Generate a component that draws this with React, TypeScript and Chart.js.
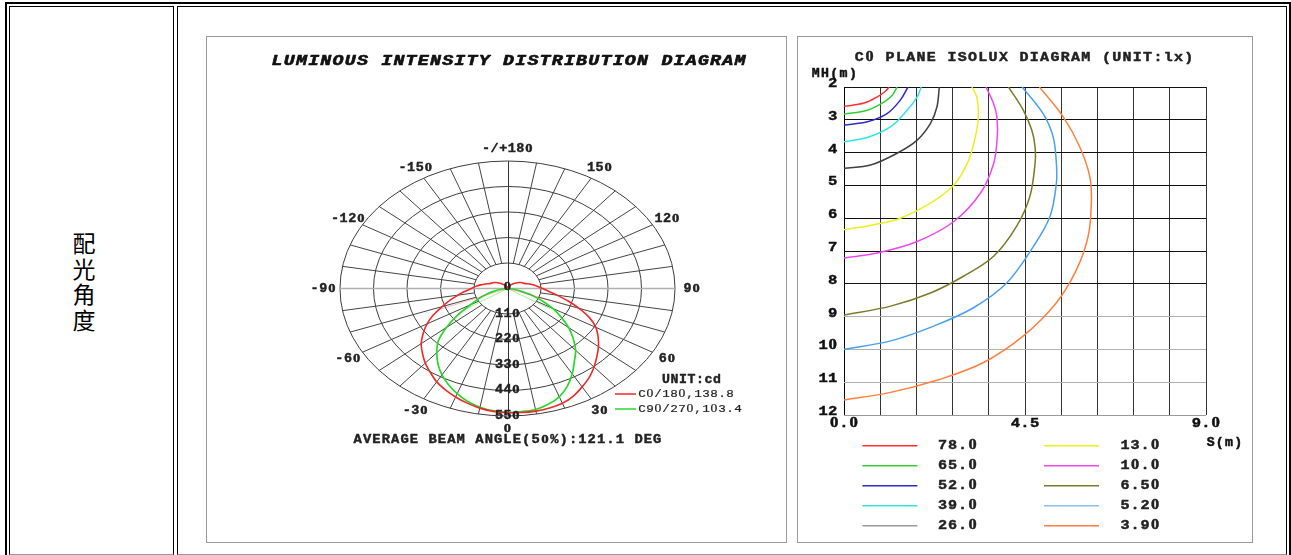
import React, { useEffect, useRef } from 'react';
import { Chart, registerables } from 'chart.js';

Chart.register(...registerables);

// ---------------- Luminous intensity (polar) data ----------------
const C0_ANGLES = [-180, -175, -170, -165, -160, -155, -150, -145, -140, -135, -130, -125, -120, -115, -110, -105, -100, -95, -90, -85, -80, -75, -70, -65, -60, -55, -50, -45, -40, -35, -30, -25, -20, -15, -10, -5, 0, 5, 10, 15, 20, 25, 30, 35, 40, 45, 50, 55, 60, 65, 70, 75, 80, 85, 90, 95, 100, 105, 110, 115, 120, 125, 130, 135, 140, 145, 150, 155, 160, 165, 170, 175, 180];
const C0_180_CD = [3, 4, 5, 7, 9, 12, 15, 19, 24, 30, 37, 45, 52, 56, 62, 75, 90, 105, 118, 140, 165, 195, 228, 268, 305, 338, 370, 395, 420, 442, 465, 482, 498, 512, 524, 532, 535, 537, 537, 534, 527, 512, 490, 468, 442, 415, 390, 363, 335, 297, 250, 205, 165, 135, 115, 100, 88, 75, 62, 56, 52, 45, 37, 30, 24, 19, 15, 12, 9, 7, 5, 4, 3];
const C90_ANGLES = [-90, -85, -80, -75, -70, -65, -60, -55, -50, -45, -40, -35, -30, -25, -20, -15, -10, -5, 0, 5, 10, 15, 20, 25, 30, 35, 40, 45, 50, 55, 60, 65, 70, 75, 80, 85, 90];
const C90_270_CD = [3, 12, 25, 48, 75, 105, 140, 200, 262, 322, 361, 398, 430, 458, 483, 505, 520, 530, 535, 533, 530, 517, 497, 465, 425, 383, 348, 305, 262, 215, 170, 125, 85, 48, 25, 12, 3];
const C0_GHOST_ANGLES = [-68, 70];
const C0_GHOST_CD = [250, 250];
const C90_GHOST_ANGLES = [-57, 58];
const C90_GHOST_CD = [175, 165];

const POLAR_RINGS = [110, 220, 330, 440, 550];
const POLAR_ANGLE_LABELS = [180, 150, 120, 90, 60, 30, 0, -30, -60, -90, -120, -150];
const POLAR_SPOKE_STEP = 10;
const POLAR_SERIES = ['C0/180,138.8', 'C90/270,103.4'];
const POLAR_TITLE = 'LUMINOUS INTENSITY DISTRIBUTION DIAGRAM';
const POLAR_FOOT = 'AVERAGE BEAM ANGLE(50%):121.1 DEG';
const POLAR_UNIT = 'UNIT:cd';

// ---------------- Isolux data (S m, MH m) ----------------
const ISO_78 = [[0, 2.59], [0.5, 2.49], [0.83, 2.3], [1.03, 2.13], [1.12, 2.0]];
const ISO_65 = [[0, 2.83], [0.58, 2.71], [0.99, 2.46], [1.2, 2.25], [1.32, 2.0]];
const ISO_52 = [[0, 3.16], [0.58, 3.06], [1.07, 2.81], [1.4, 2.4], [1.59, 2.0]];
const ISO_39 = [[0, 3.67], [0.58, 3.54], [1.16, 3.21], [1.57, 2.71], [1.82, 2.3], [1.92, 2.0]];
const ISO_26 = [[0, 4.48], [0.66, 4.38], [1.32, 4.02], [1.82, 3.62], [2.15, 3.11], [2.31, 2.61], [2.37, 2.0]];
const ISO_13 = [[0, 6.35], [0.74, 6.2], [1.4, 6.0], [2.15, 5.54], [2.73, 4.99], [3.1, 4.23], [3.3, 3.32], [3.34, 2.81], [3.3, 2.3], [3.18, 2.0]];
const ISO_10 = [[0, 7.21], [0.83, 7.06], [1.82, 6.71], [2.73, 6.1], [3.39, 5.24], [3.72, 4.33], [3.81, 3.52], [3.8, 2.91], [3.72, 2.51], [3.53, 2.0]];
const ISO_6_5 = [[0, 8.95], [1.16, 8.68], [2.15, 8.28], [2.97, 7.77], [3.72, 7.16], [4.29, 6.25], [4.62, 5.34], [4.75, 4.33], [4.75, 3.82], [4.67, 3.32], [4.46, 2.71], [4.09, 2.0]];
const ISO_5_2 = [[0, 10.0], [1.16, 9.74], [2.23, 9.29], [3.22, 8.73], [4.05, 7.97], [4.71, 6.86], [5.12, 5.95], [5.28, 4.94], [5.28, 4.33], [5.2, 3.52], [4.95, 2.81], [4.43, 2.0]];
const ISO_3_9 = [[0, 11.54], [1.16, 11.31], [2.39, 10.91], [3.47, 10.4], [4.46, 9.59], [5.28, 8.58], [5.78, 7.57], [6.07, 6.55], [6.15, 5.54], [6.11, 4.73], [5.86, 3.82], [5.45, 2.91], [4.86, 2.0]];
const ISO_CURVES = [ISO_78, ISO_65, ISO_52, ISO_39, ISO_26, ISO_13, ISO_10, ISO_6_5, ISO_5_2, ISO_3_9];
const ISO_LABELS = ['78.0', '65.0', '52.0', '39.0', '26.0', '13.0', '10.0', '6.50', '5.20', '3.90'];
const ISO_COLORS = ['#ff3030', '#30d030', '#2c2cc8', '#30e4e4', '#404040', '#eeee20', '#f048f0', '#7a7a28', '#4aa0f0', '#ff8040'];
const ISO_LEGEND_COLORS = ['#ff3030', '#30d030', '#2c2cc8', '#30e4e4', '#9a9a9a', '#eeee20', '#f048f0', '#7a7a28', '#86c0f6', '#ff8040'];
const ISO_X_GRID = [0, 0.9, 1.8, 2.7, 3.6, 4.5, 5.4, 6.3, 7.2, 8.1, 9.0];
const ISO_X_LABEL_VALUES = [0, 4.5, 9];
const ISO_X_LABELS = ['0.0', '4.5', '9.0'];
const ISO_Y_TICKS = [2, 3, 4, 5, 6, 7, 8, 9, 10, 11, 12];
const ISO_TITLE = 'C0 PLANE ISOLUX DIAGRAM (UNIT:lx)';

const MONO = '"Liberation Mono", "DejaVu Sans Mono", monospace';
const ZERO_FONT = '"Liberation Serif", serif';

type TextOpts = { size: number; pitch: number; bold?: boolean; italic?: boolean; sx?: number; align?: 'left' | 'center' | 'right'; color?: string; stroke?: number };

function drawMono(ctx: CanvasRenderingContext2D, text: string, x: number, y: number, o: TextOpts) {
  const n = text.length;
  const total = n * o.pitch;
  const start = o.align === 'left' ? x : o.align === 'right' ? x - total : x - total / 2;
  const style = `${o.italic ? 'italic ' : ''}${o.bold ? 'bold ' : ''}`;
  ctx.save();
  ctx.fillStyle = o.color || '#111';
  ctx.strokeStyle = o.color || '#111';
  ctx.lineWidth = o.stroke || 0;
  ctx.lineJoin = 'round';
  ctx.textAlign = 'center';
  ctx.textBaseline = 'alphabetic';
  const base = y + o.size * 0.3;
  for (let i = 0; i < n; i++) {
    const ch = text[i];
    if (ch === ' ') continue;
    // plain (undotted) zero like the original Courier-style lettering
    ctx.font = ch === '0' ? `${style}${o.size * 1.08}px ${ZERO_FONT}` : `${style}${o.size}px ${MONO}`;
    ctx.save();
    ctx.translate(start + o.pitch * (i + 0.5), base);
    ctx.scale(o.sx || 1, 1);
    ctx.fillText(ch, 0, 0);
    if (o.stroke) ctx.strokeText(ch, 0, 0);
    ctx.restore();
  }
  ctx.restore();
}

const rad = (a: number) => (a * Math.PI) / 180;
const toXY = (angles: number[], cd: number[]) =>
  angles.map((a, i) => ({ x: cd[i] * Math.sin(rad(a)), y: -cd[i] * Math.cos(rad(a)) }));
const ghost = (angles: number[], cd: number[]) =>
  angles.map((a, i) => [{ x: 0, y: 0 }, { x: cd[i] * Math.sin(rad(a)), y: -cd[i] * Math.cos(rad(a)) }]);

const POLAR_MAX = POLAR_RINGS[POLAR_RINGS.length - 1];

const polarPlugin = {
  id: 'polarGrid',
  beforeDatasetsDraw(chart: any) {
    const { ctx } = chart;
    const xs = chart.scales.x;
    const ys = chart.scales.y;
    const px = (a: number, r: number) => [xs.getPixelForValue(r * Math.sin(rad(a))), ys.getPixelForValue(-r * Math.cos(rad(a)))];
    const cx = xs.getPixelForValue(0);
    const cy = ys.getPixelForValue(0);
    ctx.save();
    ctx.strokeStyle = '#3c3c3c';
    ctx.lineWidth = 1;
    for (const r of POLAR_RINGS) {
      const rx = xs.getPixelForValue(r) - cx;
      const ry = cy - ys.getPixelForValue(r);
      ctx.beginPath();
      ctx.ellipse(cx, cy, rx, ry, 0, 0, Math.PI * 2);
      ctx.stroke();
    }
    ctx.strokeStyle = '#444';
    for (let a = -170; a <= 180; a += POLAR_SPOKE_STEP) {
      if (a % 90 === 0) continue;
      const [x1, y1] = px(a, POLAR_RINGS[0]);
      const [x2, y2] = px(a, POLAR_MAX);
      ctx.beginPath();
      ctx.moveTo(x1, y1);
      ctx.lineTo(x2, y2);
      ctx.stroke();
    }
    let [x1, y1] = px(180, POLAR_MAX);
    let [x2, y2] = px(0, POLAR_MAX);
    ctx.strokeStyle = '#333';
    ctx.beginPath();
    ctx.moveTo(Math.round(x1) + 0.5, y1);
    ctx.lineTo(Math.round(x2) + 0.5, y2);
    ctx.stroke();
    [x1, y1] = px(-90, POLAR_MAX);
    [x2, y2] = px(90, POLAR_MAX);
    ctx.strokeStyle = '#b0b0b0';
    ctx.lineWidth = 1.3;
    ctx.beginPath();
    ctx.moveTo(x1, y1);
    ctx.lineTo(x2, y2);
    ctx.stroke();
    ctx.restore();
  },
  afterDraw(chart: any) {
    const { ctx } = chart;
    const xs = chart.scales.x;
    const ys = chart.scales.y;
    const px = (a: number, r: number) => [xs.getPixelForValue(r * Math.sin(rad(a))), ys.getPixelForValue(-r * Math.cos(rad(a)))];
    const cx = xs.getPixelForValue(0);
    const cy = ys.getPixelForValue(0);
    drawMono(ctx, POLAR_TITLE, cx + 1, 24, { size: 14, pitch: 12.18, bold: true, italic: true, sx: 1.3, stroke: 0.6, color: '#111' });
    const lab = { size: 12, pitch: 8.6, bold: true, sx: 1.12, color: '#222', stroke: 0.4 };
    for (const a of POLAR_ANGLE_LABELS) {
      const [lx, ly] = px(a, POLAR_MAX * 1.1);
      drawMono(ctx, a === 180 ? '-/+180' : String(a), lx, ly, lab);
    }
    for (const r of POLAR_RINGS) {
      drawMono(ctx, String(r), cx, ys.getPixelForValue(-r) - 1, { ...lab, pitch: 8.4 });
    }
    drawMono(ctx, '0', cx, cy - 2, lab);
    drawMono(ctx, POLAR_FOOT, cx, 402, { size: 12, pitch: 9.36, bold: true, sx: 1.15, color: '#222', stroke: 0.4 });
    drawMono(ctx, POLAR_UNIT, 454.7, 342.5, { size: 12, pitch: 8.5, bold: true, sx: 1.1, align: 'left', color: '#222', stroke: 0.4 });
    const rows = [357, 372];
    const cols = ['#ee2a2a', '#2ad82a'];
    POLAR_SERIES.forEach((s, i) => {
      ctx.save();
      ctx.strokeStyle = cols[i];
      ctx.lineWidth = 1.5;
      ctx.beginPath();
      ctx.moveTo(408, rows[i]);
      ctx.lineTo(429, rows[i]);
      ctx.stroke();
      ctx.restore();
      drawMono(ctx, s, 431, rows[i], { size: 11.5, pitch: 8, sx: 1.1, align: 'left', color: '#222', stroke: 0.2 });
    });
  },
};

const isoPlugin = {
  id: 'isoText',
  afterDraw(chart: any) {
    const { ctx, chartArea: ca } = chart;
    const xs = chart.scales.x;
    const ys = chart.scales.y;
    const b = { bold: true, color: '#111', stroke: 0.45 };
    drawMono(ctx, ISO_TITLE, 226, 20.5, { ...b, size: 13, pitch: 10.3, sx: 1.15, color: '#222' });
    drawMono(ctx, 'MH(m)', 13, 36.5, { ...b, size: 12, pitch: 9.3, sx: 1.1, align: 'left' });
    drawMono(ctx, 'S(m)', ca.right, 405.5, { ...b, size: 12, pitch: 9.2, sx: 1.1, align: 'left' });
    for (const v of ISO_Y_TICKS) {
      drawMono(ctx, String(v), ca.left - 6.5, ys.getPixelForValue(v) - 4, { ...b, size: 13.5, pitch: 9.5, sx: 1.15, align: 'right' });
    }
    ISO_X_LABEL_VALUES.forEach((v, i) => {
      drawMono(ctx, ISO_X_LABELS[i], xs.getPixelForValue(v), ca.bottom + 8, { ...b, size: 13.5, pitch: 9.7, sx: 1.15 });
    });
    ISO_LABELS.forEach((l, i) => {
      const col = i < 5 ? 0 : 1;
      const row = i % 5;
      const y = ca.bottom + 30.7 + row * 20;
      const lx = ca.left + (col === 0 ? 18.4 : 200);
      ctx.save();
      ctx.strokeStyle = ISO_LEGEND_COLORS[i];
      ctx.lineWidth = 1.5;
      ctx.beginPath();
      ctx.moveTo(lx, y);
      ctx.lineTo(lx + 55, y);
      ctx.stroke();
      ctx.restore();
      drawMono(ctx, l, ca.left + (col === 0 ? 93.5 : 276), y - 0.5, { ...b, size: 13.5, pitch: 10, sx: 1.12, align: 'left', color: '#222' });
    });
  },
};

export default function App() {
  const polarRef = useRef<HTMLCanvasElement>(null);
  const isoRef = useRef<HTMLCanvasElement>(null);

  useEffect(() => {
    const polar = new Chart(polarRef.current as HTMLCanvasElement, {
      type: 'scatter',
      data: {
        datasets: [
          ...ghost(C0_GHOST_ANGLES, C0_GHOST_CD).map((d) => ({
            data: d, showLine: true, borderColor: 'rgba(240,60,60,0.35)', borderWidth: 1, pointRadius: 0,
          })),
          ...ghost(C90_GHOST_ANGLES, C90_GHOST_CD).map((d) => ({
            data: d, showLine: true, borderColor: 'rgba(60,220,60,0.45)', borderWidth: 1, pointRadius: 0,
          })),
          {
            label: POLAR_SERIES[0], data: toXY(C0_ANGLES, C0_180_CD), showLine: true,
            borderColor: '#ee2a2a', borderWidth: 1.6, pointRadius: 0, tension: 0.3,
          },
          {
            label: POLAR_SERIES[1], data: toXY(C90_ANGLES, C90_270_CD), showLine: true,
            borderColor: '#2ad82a', borderWidth: 1.7, pointRadius: 0, tension: 0.3,
          },
        ],
      },
      options: {
        responsive: false,
        maintainAspectRatio: false,
        animation: false,
        layout: { padding: { left: 133, right: 111, top: 124, bottom: 126 } },
        plugins: { legend: { display: false }, tooltip: { enabled: false } },
        scales: {
          x: { type: 'linear', min: -POLAR_MAX, max: POLAR_MAX, display: false },
          y: { type: 'linear', min: -POLAR_MAX, max: POLAR_MAX, display: false },
        },
      } as any,
      plugins: [polarPlugin],
    });

    const iso = new Chart(isoRef.current as HTMLCanvasElement, {
      type: 'scatter',
      data: {
        datasets: ISO_CURVES.map((c, i) => ({
          label: ISO_LABELS[i],
          data: c.map(([x, y]) => ({ x, y })),
          showLine: true,
          borderColor: ISO_COLORS[i],
          borderWidth: 1.5,
          pointRadius: 0,
          tension: 0.35,
        })),
      },
      options: {
        responsive: false,
        maintainAspectRatio: false,
        animation: false,
        layout: { padding: { left: 46, right: 46, top: 50, bottom: 127 } },
        plugins: { legend: { display: false }, tooltip: { enabled: false } },
        scales: {
          x: {
            type: 'linear', min: 0, max: 9,
            afterFit: (s: any) => { s.height = 0; },
            afterBuildTicks: (s: any) => { s.ticks = ISO_X_GRID.map((v) => ({ value: v })); },
            ticks: { display: false },
            grid: { color: (c: any) => (c.tick && c.tick.value === 0 ? '#000' : '#333'), lineWidth: 1, drawTicks: false },
            border: { display: false },
          },
          y: {
            type: 'linear', min: 2, max: 12, reverse: true,
            afterFit: (s: any) => { s.width = 0; },
            afterBuildTicks: (s: any) => { s.ticks = ISO_Y_TICKS.map((v) => ({ value: v })); },
            ticks: { display: false },
            grid: {
              color: (c: any) => (c.tick && c.tick.value <= 8 ? '#111' : c.tick && c.tick.value === 12 ? '#999' : '#b0b0b0'),
              lineWidth: 1, drawTicks: false,
            },
            border: { display: false },
          },
        },
      } as any,
      plugins: [isoPlugin],
    });

    return () => {
      polar.destroy();
      iso.destroy();
    };
  }, []);

  const abs = (s: React.CSSProperties): React.CSSProperties => ({ position: 'absolute', boxSizing: 'border-box', ...s });

  return (
    <div style={{ position: 'fixed', left: 0, top: 0, width: 1291, height: 555, background: '#fff', overflow: 'hidden' }}>
      <div style={abs({ left: 5, top: 2, width: 1286, height: 620, borderTop: '2px solid #000', borderLeft: '2px solid #000', borderRight: '2px solid #000' })} />
      <div style={abs({ left: 9, top: 6, width: 165, height: 549, borderTop: '1px solid #000', borderLeft: '1px solid #000', borderRight: '1.5px solid #000', borderBottom: '1px solid #999' })} />
      <div style={abs({ left: 177, top: 6, width: 1110, height: 549, borderTop: '1px solid #000', borderLeft: '1.5px solid #000', borderRight: '1px solid #000', borderBottom: '1px solid #999' })} />
      <div
        style={abs({
          left: 66, top: 230, width: 36, textAlign: 'center',
          fontFamily: '"Noto Sans CJK SC", "Noto Sans CJK JP", sans-serif', fontSize: 23, lineHeight: '25.5px', color: '#000',
        })}
      >
        配<br />光<br />角<br />度
      </div>
      <div style={abs({ left: 206, top: 36, width: 581, height: 507, border: '1px solid #9a9a9a' })} />
      <div style={abs({ left: 797, top: 36, width: 456, height: 507, border: '1px solid #9a9a9a' })} />
      <canvas ref={polarRef} width={579} height={505} style={{ position: 'absolute', left: 207, top: 37, width: 579, height: 505 }} />
      <canvas ref={isoRef} width={454} height={505} style={{ position: 'absolute', left: 798, top: 37, width: 454, height: 505 }} />
    </div>
  );
}
